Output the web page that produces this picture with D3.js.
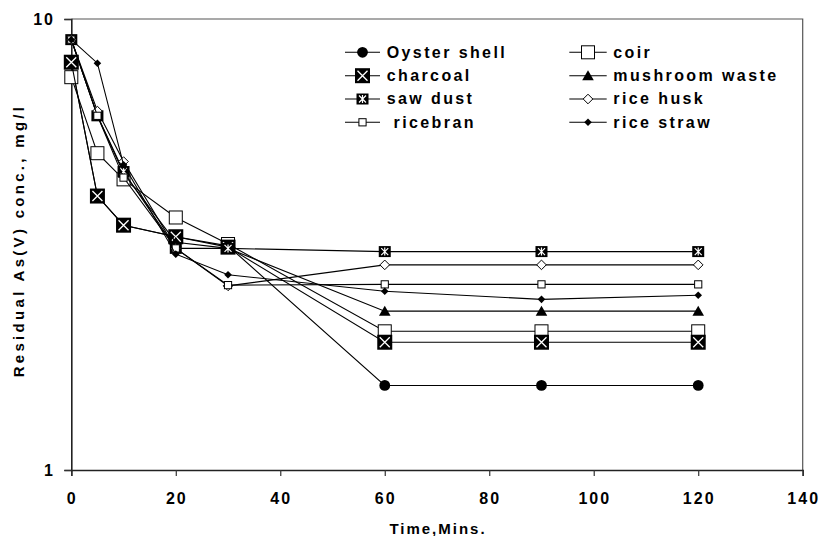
<!DOCTYPE html>
<html>
<head>
<meta charset="utf-8">
<script src="https://cdn.jsdelivr.net/npm/d3@7/dist/d3.min.js"></script>
<style>
  html, body { margin: 0; padding: 0; background: #fff; }
  svg { display: block; }
  text { font-family: "Liberation Sans", Arial, sans-serif; font-weight: bold; fill: #000; }
</style>
</head>
<body>
<svg id="chart" width="820" height="536"></svg>
<script>
// Contact time (minutes)
const times = [0, 5, 10, 20, 30, 60, 90, 120];

// Residual As(V) concentration, mg/l, per adsorbent
const oysterShell   = [8.00, 4.05, 3.49, 3.29, 3.14, 1.54, 1.54, 1.54];
const coir          = [7.43, 5.04, 4.41, 3.63, 3.17, 2.03, 2.03, 2.03];
const charcoal      = [8.02, 4.05, 3.49, 3.29, 3.12, 1.92, 1.92, 1.92];
const mushroomWaste = [9.00, 6.10, 4.55, 3.20, 3.10, 2.25, 2.25, 2.25];
const sawDust       = [9.00, 6.10, 4.59, 3.10, 3.10, 3.05, 3.05, 3.05];
const riceHusk      = [9.00, 6.25, 4.83, 3.10, 2.56, 2.85, 2.85, 2.85];
const ricebran      = [9.00, 6.10, 4.45, 3.10, 2.57, 2.58, 2.58, 2.58];
const riceStraw     = [9.00, 7.98, 4.75, 3.01, 2.71, 2.49, 2.39, 2.44];

const seriesNames = ["Oyster shell", "coir", "charcoal", "mushroom waste",
                     "saw dust", "rice husk", " ricebran", "rice straw"];
const seriesValues = [oysterShell, coir, charcoal, mushroomWaste,
                      sawDust, riceHusk, ricebran, riceStraw];
const markerKinds = ["circle", "bigSquare", "xSquare", "triangle",
                     "starSquare", "openDiamond", "smallSquare", "solidDiamond"];

const xTicks = [0, 20, 40, 60, 80, 100, 120, 140];
const yTicks = [1, 10];

const xTitle = "Time,Mins.";
const yTitle = "Residual As(V) conc., mg/l";

// ---------------------------------------------------------------
const svg = d3.select("#chart");
const plotLeft = 71.3, plotRight = 802.7, plotTop = 19, plotBottom = 470;

const x = d3.scaleLinear().domain([0, 140]).range([plotLeft, plotRight]);
const y = d3.scaleLog().domain([1, 10]).range([plotBottom, plotTop]);

// frame (top and right edges)
svg.append("path")
  .attr("d", `M${plotLeft},${plotTop}H${plotRight}V${plotBottom}`)
  .attr("fill", "none").attr("stroke", "#555").attr("stroke-width", 1.2);

// axes
const xAxis = d3.axisBottom(x).tickValues(xTicks).tickSize(6).tickFormat("");
const gx = svg.append("g").attr("transform", `translate(0,${plotBottom})`).call(xAxis);
const yAxis = d3.axisLeft(y).tickValues(yTicks).tickSize(7).tickFormat("");
const gy = svg.append("g").attr("transform", `translate(${plotLeft},0)`).call(yAxis);
[gx, gy].forEach(g => {
  g.select(".domain").attr("stroke", "#222").attr("stroke-width", 1.6);
  g.selectAll(".tick line").attr("stroke", "#333").attr("stroke-width", 1.2);
});

// tick labels
const lsTick = 2;
svg.append("g").selectAll("text").data(xTicks).join("text")
  .attr("x", d => x(d) + lsTick / 2).attr("y", 503.5)
  .attr("text-anchor", "middle").style("font-size", "16px")
  .style("letter-spacing", lsTick + "px")
  .text(d => d);
svg.append("g").selectAll("text").data(yTicks).join("text")
  .attr("x", 55).attr("y", d => y(d) + 6)
  .attr("text-anchor", "end").style("font-size", "16px")
  .style("letter-spacing", lsTick + "px")
  .text(d => d);

// axis titles
svg.append("text")
  .attr("x", (plotLeft + plotRight) / 2 + 1).attr("y", 534)
  .attr("text-anchor", "middle").style("font-size", "15px")
  .style("letter-spacing", "2px").text(xTitle);
svg.append("text")
  .attr("transform", `translate(23.5,${(plotTop + plotBottom) / 2 - 4}) rotate(-90)`)
  .attr("text-anchor", "middle").style("font-size", "15px")
  .style("letter-spacing", "3.3px").text(yTitle);

// marker drawing
function drawMarker(g, kind) {
  switch (kind) {
    case "circle":
      g.append("circle").attr("r", 5.4).attr("fill", "#000");
      break;
    case "bigSquare":
      g.append("rect").attr("x", -6.5).attr("y", -6.5).attr("width", 13).attr("height", 13)
        .attr("fill", "#fff").attr("stroke", "#000").attr("stroke-width", 1);
      break;
    case "xSquare":
      g.append("rect").attr("x", -7.5).attr("y", -7.5).attr("width", 15).attr("height", 15)
        .attr("fill", "#000");
      g.append("path").attr("d", "M-5,-5L5,5M-5,5L5,-5")
        .attr("stroke", "#fff").attr("stroke-width", 1.3);
      break;
    case "triangle":
      g.append("path").attr("d", "M0,-5.5L5.8,4.5L-5.8,4.5Z").attr("fill", "#000");
      break;
    case "starSquare":
      g.append("rect").attr("x", -6).attr("y", -5.5).attr("width", 12).attr("height", 11)
        .attr("fill", "#000");
      g.append("path").attr("d", "M-3.5,-3.5L3.5,3.5M-3.5,3.5L3.5,-3.5M0,-4V4")
        .attr("stroke", "#fff").attr("stroke-width", 1.2);
      break;
    case "openDiamond":
      g.append("path").attr("d", "M0,-4.8L4.8,0L0,4.8L-4.8,0Z")
        .attr("fill", "#fff").attr("stroke", "#000").attr("stroke-width", 1);
      break;
    case "smallSquare":
      g.append("rect").attr("x", -3.6).attr("y", -3.6).attr("width", 7.2).attr("height", 7.2)
        .attr("fill", "#fff").attr("stroke", "#000").attr("stroke-width", 1);
      break;
    case "solidDiamond":
      g.append("path").attr("d", "M0,-3.8L3.8,0L0,3.8L-3.8,0Z").attr("fill", "#000");
      break;
  }
}

// series lines and markers
const line = d3.line().x(d => x(d[0])).y(d => y(d[1]));
seriesValues.forEach((vals, i) => {
  const pts = times.map((t, j) => [t, vals[j]]);
  const g = svg.append("g");
  g.append("path").datum(pts).attr("d", line)
    .attr("fill", "none").attr("stroke", "#000").attr("stroke-width", 1.1);
  pts.forEach(p => {
    const m = g.append("g").attr("transform", `translate(${x(p[0])},${y(p[1])})`);
    drawMarker(m, markerKinds[i]);
  });
});

// legend (two columns, row-wise)
const legendCols = [{ x1: 345, x2: 380, tx: 386.7 }, { x1: 569.3, x2: 606.7, tx: 613.3 }];
const legendRows = [52.3, 75.7, 99, 122.3];
seriesNames.forEach((name, i) => {
  const c = legendCols[i % 2], ry = legendRows[Math.floor(i / 2)];
  const g = svg.append("g");
  g.append("line").attr("x1", c.x1).attr("x2", c.x2).attr("y1", ry).attr("y2", ry)
    .attr("stroke", "#000").attr("stroke-width", 1.1);
  const m = g.append("g").attr("transform", `translate(${(c.x1 + c.x2) / 2},${ry})`);
  drawMarker(m, markerKinds[i]);
  g.append("text").attr("x", c.tx).attr("y", ry + 5.2)
    .style("font-size", "16px").style("letter-spacing", "2.4px")
    .style("white-space", "pre").attr("xml:space", "preserve")
    .text(name);
});
</script>
</body>
</html>
